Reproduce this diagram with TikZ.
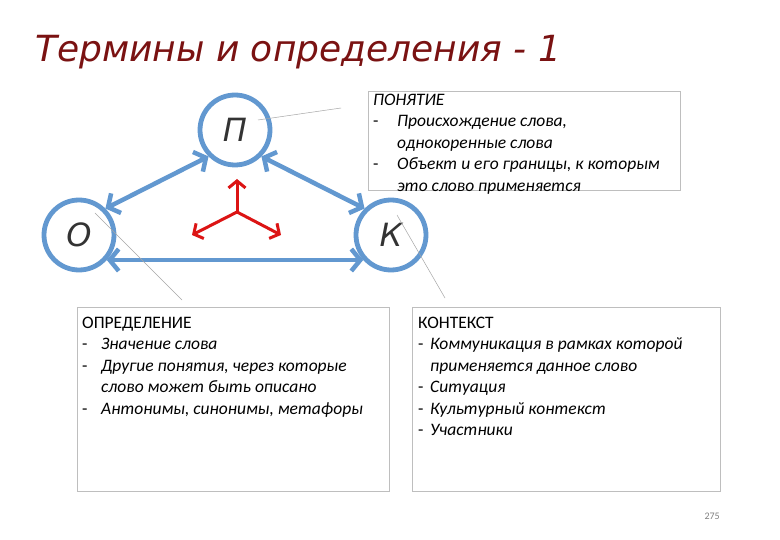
\documentclass[tikz,border=0pt]{standalone}
\usepackage{fontspec}
\setmainfont{Carlito}
\newfontfamily\dejavu{DejaVu Sans}
\usetikzlibrary{arrows.meta}
\definecolor{titlered}{RGB}{122,18,18}
\definecolor{ringblue}{RGB}{98,152,208}
\definecolor{boxgray}{RGB}{190,190,190}
\definecolor{pointred}{RGB}{220,20,20}

\begin{document}
\begin{tikzpicture}[
  x=1pt, y=-1pt,
  letter/.style={circle, draw=ringblue, line width=4.8pt, minimum size=70pt, inner sep=0pt, font=\dejavu\itshape\fontsize{32}{32}\selectfont, text=black!80},
  link/.style={draw=ringblue, line width=4.5pt, {Straight Barb[length=9pt,width=22pt]}-{Straight Barb[length=9pt,width=22pt]}},
  pointer/.style={draw=pointred, line width=3pt, -{Straight Barb[length=7pt,width=17pt]}},
  leader/.style={draw=gray!70, line width=0.5pt},
  infobox/.style={draw=boxgray, line width=0.8pt},
  infotext/.style={anchor=north west, inner sep=0pt, align=left, font=\fontsize{17.5}{21.5}\selectfont}
]
  \fill[white] (0,0) rectangle (780,540);
  \useasboundingbox (0,0) rectangle (780,540);

  % Title
  \node[anchor=base west, inner sep=0pt, text=titlered, font=\dejavu\itshape\fontsize{36}{36}\selectfont] (title) at (35,62) {Термины и определения - 1};

  % Triangle of terms
  \node[letter] (P) at (235,130) {П};
  \node[letter] (O) at (79,235) {О};
  \node[letter] (K) at (391,235) {К};

  \draw[link] (O.45) -- (P.225);
  \draw[link] (P.-45) -- (K.135);
  \draw[link] (O.-42) -- (K.222);

  % Red triad in the middle
  \coordinate (hub) at (237,212);
  \coordinate (hubup) at (237,179);
  \coordinate (hubleft) at (192,235);
  \coordinate (hubright) at (281,235);
  \draw[pointer] (hub) -- (hubup);
  \draw[pointer] (hub) -- (hubleft);
  \draw[pointer] (hub) -- (hubright);

  % Text boxes
  \draw[infobox] (368,91) rectangle (680,190);
  \node[infotext] (ponyatie) at (373,90) {%
    \begin{tabular}{@{}p{24pt}@{}l@{}}
      \multicolumn{2}{@{}l@{}}{\itshape ПОНЯТИЕ}\\
      - & \itshape Происхождение слова,\\
        & \itshape однокоренные слова\\
      - & \itshape Объект и его границы, к которым\\
        & \itshape это слово применяется
    \end{tabular}};

  \draw[infobox] (77,307) rectangle (389,491);
  \node[infotext] (opredelenie) at (82,313) {%
    \begin{tabular}{@{}p{19pt}@{}l@{}}
      \multicolumn{2}{@{}l@{}}{ОПРЕДЕЛЕНИЕ}\\
      - & \itshape Значение слова\\
      - & \itshape Другие понятия, через которые\\
        & \itshape слово может быть описано\\
      - & \itshape Антонимы, синонимы, метафоры
    \end{tabular}};

  \draw[infobox] (412,307) rectangle (720,491);
  \node[infotext] (kontekst) at (418,313) {%
    \begin{tabular}{@{}p{12pt}@{}l@{}}
      \multicolumn{2}{@{}l@{}}{КОНТЕКСТ}\\
      - & \itshape Коммуникация в рамках которой\\
        & \itshape применяется данное слово\\
      - & \itshape Ситуация\\
      - & \itshape Культурный контекст\\
      - & \itshape Участники
    \end{tabular}};

  % Leader lines from the circles to the boxes
  \coordinate (pfrom) at (258,120);
  \coordinate (pto) at (341,108);
  \coordinate (ofrom) at (95,213);
  \coordinate (oto) at (182,300);
  \coordinate (kfrom) at (397,215);
  \coordinate (kto) at (445,298);
  \draw[leader] (pfrom) -- (pto);
  \draw[leader] (ofrom) -- (oto);
  \draw[leader] (kfrom) -- (kto);

  % Page number
  \node[anchor=base east, inner sep=0pt, text=gray, font=\fontsize{10}{10}\selectfont] (pagenum) at (720,519) {275};
\end{tikzpicture}
\end{document}
